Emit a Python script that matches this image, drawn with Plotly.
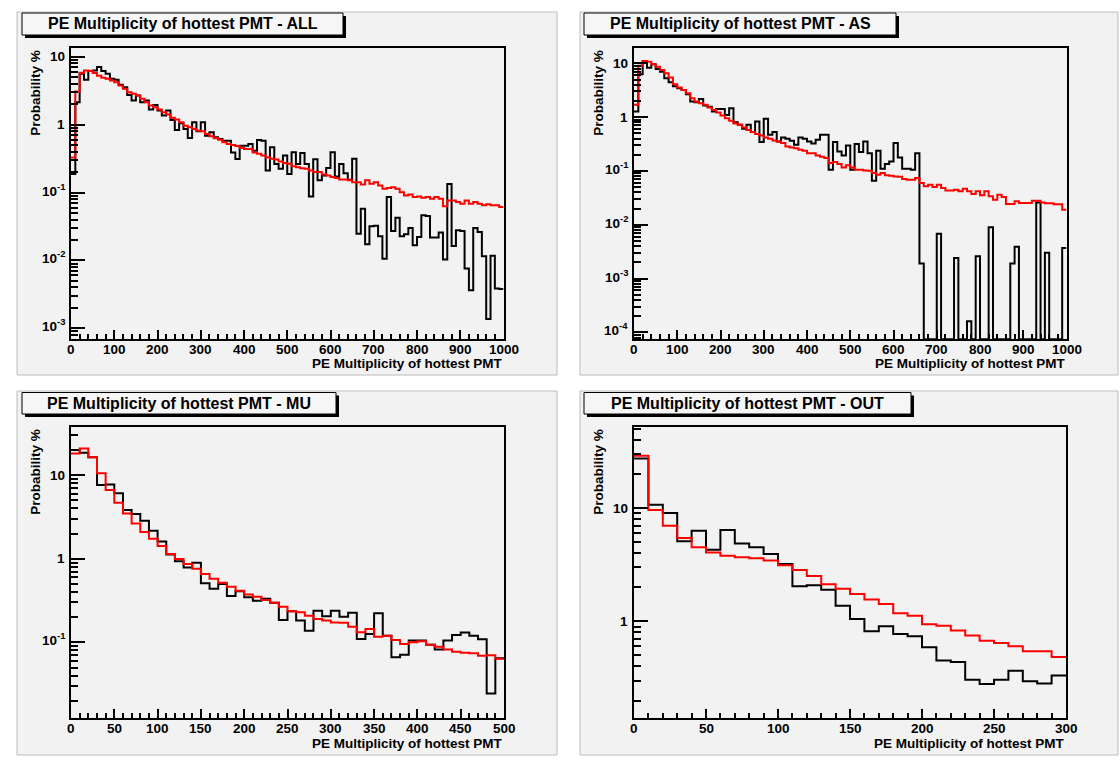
import math
import plotly.graph_objects as go

W, H = 1120, 760

# ---------------------------------------------------------------- data
# Probability (%) per 10-PE bin, data (black) and simulation (red)
all_data = [0.187, 2.14, 5.61, 4.57, 6.14, 6.28, 7.03, 6.14, 5.61, 4.73,
            4.57, 3.86, 3.56, 2.74, 2.26, 2.68, 2.14, 2.26, 1.67, 1.95,
            1.61, 1.36, 1.61, 1.17, 0.834, 1.05, 0.863, 0.635, 1.08, 0.797,
            1.08, 0.688, 0.77, 0.65, 0.614, 0.58, 0.58, 0.39, 0.311, 0.49,
            0.49, 0.518, 0.413, 0.593, 0.58, 0.211, 0.465, 0.264, 0.223, 0.35,
            0.188, 0.392, 0.264, 0.383, 0.264, 0.087, 0.31, 0.151, 0.178, 0.229,
            0.392, 0.172, 0.264, 0.193, 0.154, 0.313, 0.0248, 0.0578, 0.0173, 0.0318,
            0.0325, 0.0227, 0.0106, 0.0857, 0.0271, 0.0426, 0.0227, 0.0243, 0.030, 0.0167,
            0.0222, 0.0461, 0.0451, 0.0217, 0.0217, 0.0257, 0.0103, 0.134, 0.0163, 0.0278,
            0.0271, 0.0076, 0.00365, 0.030, 0.0262, 0.0115, 0.00137, 0.0117, 0.00386, 0.0038]
all_sim = [0.329, 3.07, 5.80, 6.28, 6.14, 5.74, 5.24, 4.89, 4.73, 4.47,
           4.22, 3.77, 3.37, 3.01, 2.84, 2.68, 2.40, 2.14, 1.91, 1.80,
           1.67, 1.52, 1.41, 1.26, 1.19, 1.08, 0.966, 0.913, 0.863, 0.815,
           0.797, 0.728, 0.673, 0.628, 0.60, 0.548, 0.518, 0.501, 0.484, 0.452,
           0.437, 0.437, 0.39, 0.371, 0.351, 0.331, 0.313, 0.306, 0.286, 0.271,
           0.265, 0.244, 0.236, 0.228, 0.223, 0.211, 0.20, 0.20, 0.184, 0.178,
           0.169, 0.163, 0.156, 0.156, 0.151, 0.142, 0.142, 0.131, 0.151, 0.135,
           0.142, 0.127, 0.114, 0.117, 0.12, 0.114, 0.101, 0.0906, 0.0937, 0.0857,
           0.0877, 0.0838, 0.0857, 0.081, 0.0857, 0.081, 0.0625, 0.0766, 0.0766, 0.0724,
           0.0684, 0.0766, 0.0684, 0.0724, 0.0684, 0.0647, 0.0669, 0.0647, 0.0647, 0.0611]

as_data = [1.27, 6.25, 11.0, 8.3, 9.6, 7.85, 7.0, 5.27, 4.45, 3.75,
           3.44, 3.2, 2.66, 1.94, 1.89, 2.18, 1.64, 1.55, 1.27, 1.42,
           1.42, 1.1, 1.46, 0.805, 0.72, 0.606, 0.72, 0.526, 0.83, 0.343,
           0.93, 0.469, 0.526, 0.353, 0.419, 0.395, 0.363, 0.306, 0.419, 0.395,
           0.353, 0.324, 0.38, 0.469, 0.469, 0.105, 0.343, 0.23, 0.194, 0.297,
           0.105, 0.315, 0.224, 0.353, 0.214, 0.0658, 0.237, 0.11, 0.134, 0.15,
           0.329, 0.178, 0.11, 0.11, 0.105, 0.214, 0.0019, 0, 0, 0,
           0.0068, 0, 0, 0, 0.0024, 0, 0, 0.00016, 0, 0.0026,
           0, 0, 0.009, 0, 0, 0, 0, 0.0019, 0.0039, 0,
           0, 0, 0, 0.026, 0, 0.003, 0, 0, 0, 0.0037]
as_sim = [1.69, 9.05, 11.0, 10.7, 9.58, 8.67, 7.52, 6.53, 5.42, 4.08,
          3.54, 3.2, 2.78, 2.24, 1.95, 1.81, 1.69, 1.51, 1.36, 1.22,
          1.07, 0.955, 0.853, 0.761, 0.719, 0.641, 0.573, 0.526, 0.483, 0.456,
          0.419, 0.395, 0.368, 0.353, 0.329, 0.285, 0.273, 0.265, 0.247, 0.237,
          0.214, 0.214, 0.194, 0.183, 0.173, 0.14, 0.146, 0.134, 0.116, 0.127,
          0.116, 0.105, 0.105, 0.102, 0.101, 0.0913, 0.085, 0.0913, 0.0826, 0.0812,
          0.0791, 0.0775, 0.0706, 0.0687, 0.0687, 0.0738, 0.0596, 0.0517, 0.0555, 0.0502,
          0.0555, 0.0481, 0.043, 0.043, 0.0448, 0.0418, 0.0468, 0.0418, 0.0373, 0.0418,
          0.0352, 0.0418, 0.0337, 0.0292, 0.0362, 0.0328, 0.0243, 0.0243, 0.0272, 0.0254,
          0.0254, 0.0254, 0.028, 0.028, 0.026, 0.025, 0.025, 0.024, 0.024, 0.019]

mu_data = [19.9, 18.5, 16.3, 7.59, 7.7, 6.04, 3.82, 3.42, 2.85, 2.16,
           1.61, 1.12, 0.93, 0.787, 0.896, 0.507, 0.438, 0.498, 0.358, 0.407,
           0.345, 0.315, 0.333, 0.298, 0.185, 0.235, 0.182, 0.138, 0.239, 0.205,
           0.239, 0.203, 0.226, 0.11, 0.126, 0.222, 0.12, 0.0662, 0.0713, 0.105,
           0.105, 0.0938, 0.0824, 0.105, 0.122, 0.131, 0.12, 0.109, 0.0245, 0.0644]
mu_sim = [18.1, 20.8, 16.3, 10.5, 6.62, 4.67, 3.48, 2.64, 2.08, 1.73,
          1.42, 1.14, 0.99, 0.863, 0.759, 0.656, 0.577, 0.517, 0.463, 0.415,
          0.372, 0.352, 0.321, 0.298, 0.267, 0.235, 0.229, 0.208, 0.19, 0.182,
          0.173, 0.171, 0.154, 0.132, 0.144, 0.117, 0.12, 0.107, 0.0955, 0.1,
          0.103, 0.0938, 0.0887, 0.0824, 0.0773, 0.0753, 0.074, 0.069, 0.070, 0.0638]

out_data = [27.4, 10.7, 9.03, 5.08, 6.31, 4.29, 6.4, 4.87, 4.5, 3.93,
            3.2, 2.04, 2.08, 1.90, 1.37, 1.05, 0.816, 0.904, 0.773, 0.738,
            0.59, 0.45, 0.438, 0.305, 0.28, 0.305, 0.367, 0.296, 0.282, 0.332]
out_sim = [28.9, 9.6, 6.98, 5.44, 4.5, 4.06, 3.8, 3.67, 3.6, 3.45,
           3.12, 2.84, 2.51, 2.13, 1.94, 1.74, 1.56, 1.42, 1.18, 1.12,
           0.94, 0.916, 0.828, 0.748, 0.675, 0.644, 0.602, 0.543, 0.543, 0.484]

BIN_WIDTH = 10
X_TITLE = "PE Multiplicity of hottest PMT"
Y_TITLE = "Probability %"

# ---------------------------------------------------------------- layout geometry (pixels)
panels = [
    dict(tag="ALL", data=all_data, sim=all_sim, xmax=1000, xmajor=100, xminor=20,
         ylog=(-3.162, 1.133), frame=(71, 47.7, 503.5, 339.3), pad=(17, 12, 557, 375),
         box=(22, 13, 343, 35), ytitle_x=36, xtitle_y=364),
    dict(tag="AS", data=as_data, sim=as_sim, xmax=1000, xmajor=100, xminor=20,
         ylog=(-4.13, 1.29), frame=(634, 47.7, 1066.5, 339.3), pad=(580, 12, 1118, 375),
         box=(584, 13, 896, 35), ytitle_x=599, xtitle_y=364),
    dict(tag="MU", data=mu_data, sim=mu_sim, xmax=500, xmajor=50, xminor=10,
         ylog=(-1.908, 1.578), frame=(71, 426.7, 504, 718.3), pad=(17, 391, 557, 755),
         box=(22, 392.5, 336, 414), ytitle_x=36, xtitle_y=743),
    dict(tag="OUT", data=out_data, sim=out_sim, xmax=300, xmajor=50, xminor=10,
         ylog=(-0.856, 1.718), frame=(634, 426.7, 1066, 718.3), pad=(580, 391, 1118, 755),
         box=(584, 392.5, 911, 414), ytitle_x=599, xtitle_y=743),
]

FONT = "Liberation Sans, Arial, Helvetica, sans-serif"
LABEL_SIZE = 13.5


def px(x):
    return x / W


def py(y):
    return 1 - y / H


def sup_label(e):
    if e == 0:
        return "<b>1</b>"
    if e == 1:
        return "<b>10</b>"
    return f"<b>10<sup>{e}</sup></b>"


fig = go.Figure()
shapes = []
annotations = []
label_font = dict(family=FONT, size=LABEL_SIZE, color="black")

for i, p in enumerate(panels):
    n = i + 1
    xa = "xaxis" if n == 1 else f"xaxis{n}"
    ya = "yaxis" if n == 1 else f"yaxis{n}"
    xr = "x" if n == 1 else f"x{n}"
    yr = "y" if n == 1 else f"y{n}"
    x0, y0, x1, y1 = p["frame"]
    lo, hi = p["ylog"]
    floor = 10 ** lo  # empty bins are drawn on the frame bottom

    nb = len(p["data"])
    edges = [k * BIN_WIDTH for k in range(nb + 1)]
    for vals, col in ((p["data"], "black"), (p["sim"], "#ff0000")):
        ys = [max(v, floor) for v in vals] + [max(vals[-1], floor)]
        fig.add_trace(go.Scatter(x=edges, y=ys, mode="lines", line_shape="hv",
                                 line=dict(color=col, width=2), xaxis=xr, yaxis=yr,
                                 showlegend=False, hoverinfo="skip"))

    # axis ticks
    xmaj = list(range(0, p["xmax"] + 1, p["xmajor"]))
    xmin = [v for v in range(0, p["xmax"] + 1, p["xminor"]) if v not in xmaj]
    emin, emax = math.ceil(lo), math.floor(hi)
    ymaj_e = list(range(emin, emax + 1))
    ymaj = [10.0 ** e for e in ymaj_e]
    ymin = []
    for e in range(math.floor(lo), math.ceil(hi) + 1):
        for m in range(2, 10):
            v = m * 10.0 ** e
            if lo <= math.log10(v) <= hi:
                ymin.append(v)

    fig.update_layout(**{
        xa: dict(domain=[px(x0), px(x1)], range=[0, p["xmax"]], anchor=yr,
                 showline=True, linecolor="black", linewidth=2, mirror=True,
                 ticks="inside", ticklen=9, tickwidth=1.5, tickcolor="black",
                 tickmode="array", tickvals=xmaj, showticklabels=False,
                 minor=dict(ticks="inside", ticklen=5, tickwidth=1.5, tickcolor="black",
                            tickmode="array", tickvals=xmin, showgrid=False),
                 showgrid=False, zeroline=False, fixedrange=True),
        ya: dict(domain=[py(y1), py(y0)], type="log", range=[lo, hi], anchor=xr,
                 showline=True, linecolor="black", linewidth=2, mirror=True,
                 ticks="inside", ticklen=14, tickwidth=1.5, tickcolor="black",
                 tickmode="array", tickvals=ymaj, showticklabels=False,
                 minor=dict(ticks="inside", ticklen=7, tickwidth=1.5, tickcolor="black",
                            tickmode="array", tickvals=ymin, showgrid=False),
                 showgrid=False, zeroline=False, fixedrange=True),
    })

    # x tick labels just under the frame
    for v in xmaj:
        annotations.append(dict(text=f"<b>{v}</b>", xref=xr, yref="paper", x=v,
                                y=py(y1 + 10), xanchor="center", yanchor="middle",
                                showarrow=False, font=label_font))
    # y tick labels left of the frame (decades)
    for e, v in zip(ymaj_e, ymaj):
        annotations.append(dict(text=sup_label(e), xref="paper", yref=yr, x=px(x0 - 4),
                                y=e, xanchor="right", yanchor="middle",
                                yshift=3 if e < 0 else 0,
                                showarrow=False, font=label_font))

    # pad background
    a0, b0, a1, b1 = p["pad"]
    shapes.append(dict(type="rect", xref="paper", yref="paper", layer="below",
                       x0=px(a0), x1=px(a1), y0=py(b1), y1=py(b0),
                       fillcolor="#f2f2f2", line=dict(color="#bcbcbc", width=1)))
    # title box with shadow
    c0, d0, c1, d1 = p["box"]
    shapes.append(dict(type="rect", xref="paper", yref="paper",
                       x0=px(c0 + 3), x1=px(c1 + 3), y0=py(d1 + 3), y1=py(d0 + 3),
                       fillcolor="black", line=dict(width=0)))
    shapes.append(dict(type="rect", xref="paper", yref="paper",
                       x0=px(c0), x1=px(c1), y0=py(d1), y1=py(d0),
                       fillcolor="#f6f6f6", line=dict(color="black", width=1)))
    annotations.append(dict(text=f"<b>PE Multiplicity of hottest PMT - {p['tag']}</b>",
                            xref="paper", yref="paper", x=px((c0 + c1) / 2), y=py((d0 + d1) / 2),
                            xanchor="center", yanchor="middle", showarrow=False,
                            font=dict(family=FONT, size=16, color="black")))
    # axis titles
    annotations.append(dict(text=f"<b>{Y_TITLE}</b>", textangle=-90,
                            xref="paper", yref="paper", x=px(p["ytitle_x"]), y=py(y0),
                            xanchor="center", yanchor="top", showarrow=False,
                            font=label_font))
    annotations.append(dict(text=f"<b>{X_TITLE}</b>",
                            xref="paper", yref="paper", x=px(x1), y=py(p["xtitle_y"]),
                            xanchor="right", yanchor="middle", showarrow=False,
                            font=label_font))

fig.update_layout(width=W, height=H, margin=dict(l=0, r=0, t=0, b=0),
                  paper_bgcolor="white", plot_bgcolor="rgba(0,0,0,0)",
                  shapes=shapes, annotations=annotations, showlegend=False,
                  font=dict(family=FONT, color="black"))

fig.write_html("out.html", config=dict(displayModeBar=False))
